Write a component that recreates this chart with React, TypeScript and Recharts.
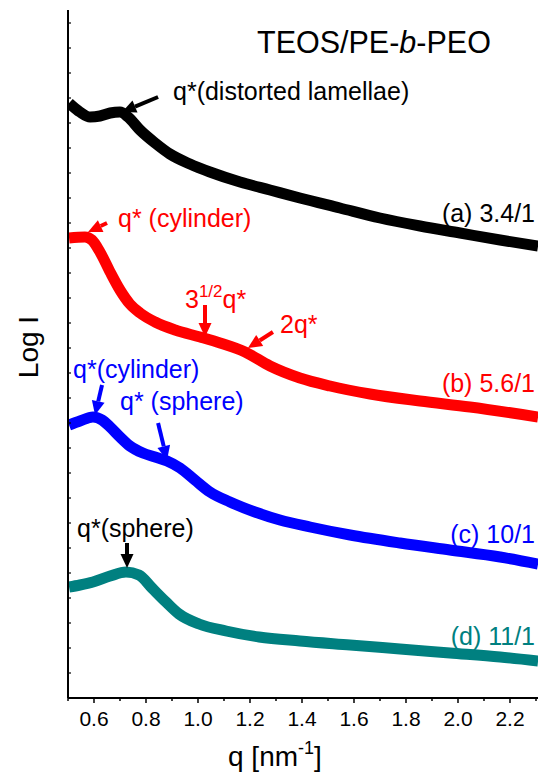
import React from "react"
import { ComposedChart, Line, Scatter, XAxis, YAxis } from "recharts"

// SAXS profiles, log intensity in arbitrary offset units
const curveA = [
  { q: 0.504, v: 59.5 }, { q: 0.546, v: 58.6 }, { q: 0.585, v: 58.1 }, { q: 0.623, v: 58.2 },
  { q: 0.662, v: 58.5 }, { q: 0.7, v: 58.6 }, { q: 0.731, v: 58.1 }, { q: 0.777, v: 56.8 },
  { q: 0.835, v: 55.5 }, { q: 0.892, v: 54.4 }, { q: 0.969, v: 53.4 }, { q: 1.046, v: 52.6 },
  { q: 1.162, v: 51.6 }, { q: 1.277, v: 50.8 }, { q: 1.392, v: 50.0 }, { q: 1.546, v: 49.0 },
  { q: 1.7, v: 48.0 }, { q: 1.854, v: 47.2 }, { q: 2.008, v: 46.5 }, { q: 2.162, v: 45.8 },
  { q: 2.308, v: 45.2 },
]

const curveB = [
  { q: 0.504, v: 46.0 }, { q: 0.565, v: 46.1 }, { q: 0.592, v: 45.8 }, { q: 0.623, v: 44.6 },
  { q: 0.662, v: 42.6 }, { q: 0.7, v: 40.8 }, { q: 0.738, v: 39.4 }, { q: 0.777, v: 38.5 },
  { q: 0.835, v: 37.6 }, { q: 0.912, v: 36.8 }, { q: 1.008, v: 36.1 }, { q: 1.085, v: 35.5 },
  { q: 1.181, v: 34.6 }, { q: 1.277, v: 33.2 }, { q: 1.392, v: 32.0 }, { q: 1.508, v: 31.2 },
  { q: 1.662, v: 30.4 }, { q: 1.854, v: 29.7 }, { q: 2.046, v: 29.1 }, { q: 2.308, v: 28.1 },
]

const curveC = [
  { q: 0.504, v: 27.3 }, { q: 0.546, v: 27.7 }, { q: 0.596, v: 28.1 }, { q: 0.631, v: 27.8 },
  { q: 0.662, v: 27.1 }, { q: 0.7, v: 26.1 }, { q: 0.738, v: 25.2 }, { q: 0.788, v: 24.5 },
  { q: 0.835, v: 24.1 }, { q: 0.881, v: 23.7 }, { q: 0.931, v: 23.0 }, { q: 0.988, v: 21.8 },
  { q: 1.046, v: 20.6 }, { q: 1.123, v: 19.6 }, { q: 1.219, v: 18.6 }, { q: 1.315, v: 17.8 },
  { q: 1.431, v: 17.1 }, { q: 1.585, v: 16.3 }, { q: 1.777, v: 15.5 }, { q: 1.969, v: 14.8 },
  { q: 2.162, v: 14.1 }, { q: 2.308, v: 13.4 },
]

const curveD = [
  { q: 0.504, v: 11.1 }, { q: 0.546, v: 11.3 }, { q: 0.596, v: 11.6 }, { q: 0.662, v: 12.2 },
  { q: 0.723, v: 12.6 }, { q: 0.773, v: 12.3 }, { q: 0.823, v: 11.0 }, { q: 0.877, v: 9.6 },
  { q: 0.927, v: 8.4 }, { q: 1.004, v: 7.4 }, { q: 1.108, v: 6.7 }, { q: 1.235, v: 6.1 },
  { q: 1.392, v: 5.7 }, { q: 1.585, v: 5.3 }, { q: 1.777, v: 4.9 }, { q: 1.969, v: 4.5 },
  { q: 2.162, v: 4.1 }, { q: 2.308, v: 3.7 },
]

// peak markers: tip on the curve, tail given as pixel offset
const arrows = [
  { q: 0.708, v: 58.6, dx: 36, dy: -15, color: "#000000" },
  { q: 0.577, v: 46.6, dx: 19, dy: -9, color: "#ff0000" },
  { q: 1.027, v: 36.1, dx: 0, dy: -32, color: "#ff0000" },
  { q: 1.192, v: 35.0, dx: 25, dy: -16, color: "#ff0000" },
  { q: 0.604, v: 28.3, dx: 7, dy: -30, color: "#0000ff" },
  { q: 0.881, v: 23.8, dx: -9, dy: -37, color: "#0000ff" },
  { q: 0.727, v: 13.0, dx: 0, dy: -25, color: "#000000" },
]

const xTicks = [0.5, 0.6, 0.7, 0.8, 0.9, 1.0, 1.1, 1.2, 1.3, 1.4, 1.5, 1.6, 1.7, 1.8, 1.9, 2.0, 2.1, 2.2, 2.3]
const yTicks = [2.5, 5, 7.5, 10, 12.5, 15, 17.5, 20, 22.5, 25, 27.5, 30, 32.5, 35, 37.5, 40, 42.5, 45, 47.5, 50, 52.5, 55, 57.5, 60, 62.5, 65, 67.5]

const FONT = "'Liberation Sans', Arial, sans-serif"

function Arrow(props: any) {
  const { cx, cy, payload } = props
  const { dx, dy, color } = payload
  const len = Math.hypot(dx, dy)
  const ux = dx / len
  const uy = dy / len
  const head = 14
  const half = 6.5
  const bx = cx + ux * head
  const by = cy + uy * head
  return (
    <g>
      <line x1={cx + dx} y1={cy + dy} x2={bx} y2={by} stroke={color} strokeWidth={4} />
      <polygon
        points={`${cx},${cy} ${bx - uy * half},${by + ux * half} ${bx + uy * half},${by - ux * half}`}
        fill={color}
      />
    </g>
  )
}

function BottomTick(props: any) {
  const { x, y, payload } = props
  const v = payload.value
  const major = Math.round(v * 10) % 2 === 0
  return (
    <g>
      <line x1={x} y1={y} x2={x} y2={y + (major ? 5 : 3)} stroke="#000" strokeWidth={1.5} />
      {major && (
        <text x={x} y={y + 28} textAnchor="middle" fontSize={21} fontFamily={FONT} fill="#000">
          {v.toFixed(1)}
        </text>
      )}
    </g>
  )
}

function TopTick(props: any) {
  const { x, y } = props
  return <line x1={x} y1={y} x2={x} y2={y + 3} stroke="#000" strokeWidth={1.2} />
}

function LeftTick(props: any) {
  const { x, y } = props
  return <line x1={x} y1={y} x2={x + 3} y2={y} stroke="#000" strokeWidth={1.2} />
}

export default function App() {
  return (
    <div style={{ position: "absolute", left: 0, top: 0, width: 538, height: 774, background: "#fff" }}>
      <ComposedChart width={538} height={774} margin={{ top: 10, right: 0, bottom: 0, left: 8 }}>
        <XAxis
          xAxisId="b"
          dataKey="q"
          type="number"
          domain={[0.5, 2.3077]}
          ticks={xTicks}
          interval={0}
          height={76}
          tickSize={0}
          tickMargin={0}
          tickLine={false}
          tick={<BottomTick />}
          axisLine={{ stroke: "#000", strokeWidth: 2 }}
          allowDataOverflow
        />
        <XAxis
          xAxisId="t"
          orientation="top"
          dataKey="q"
          type="number"
          domain={[0.5, 2.3077]}
          ticks={xTicks}
          interval={0}
          height={0}
          tickSize={0}
          tickMargin={0}
          tickLine={false}
          tick={<TopTick />}
          axisLine={{ stroke: "#000", strokeWidth: 2 }}
          allowDataOverflow
        />
        <YAxis
          type="number"
          domain={[0, 68.8]}
          ticks={yTicks}
          interval={0}
          width={60}
          tickSize={0}
          tickMargin={0}
          tickLine={false}
          tick={<LeftTick />}
          axisLine={{ stroke: "#000", strokeWidth: 2 }}
          allowDataOverflow
        />
        <Line xAxisId="b" data={curveA} dataKey="v" type="monotone" stroke="#000000" strokeWidth={11} dot={false} isAnimationActive={false} />
        <Line xAxisId="b" data={curveB} dataKey="v" type="monotone" stroke="#ff0000" strokeWidth={11} dot={false} isAnimationActive={false} />
        <Line xAxisId="b" data={curveC} dataKey="v" type="monotone" stroke="#0000ff" strokeWidth={11} dot={false} isAnimationActive={false} />
        <Line xAxisId="b" data={curveD} dataKey="v" type="monotone" stroke="#008080" strokeWidth={11} dot={false} isAnimationActive={false} />
        <Scatter xAxisId="b" data={arrows} dataKey="v" shape={<Arrow />} isAnimationActive={false} />
      </ComposedChart>
      <svg
        width={538}
        height={774}
        style={{ position: "absolute", left: 0, top: 0, pointerEvents: "none" }}
        fontFamily={FONT}
      >
        <text x={257} y={53} fontSize={30.5} fill="#000">
          TEOS/PE-<tspan fontStyle="italic">b</tspan>-PEO
        </text>
        <text x={173} y={100} fontSize={25} fill="#000">q*(distorted lamellae)</text>
        <text x={118} y={227} fontSize={25} fill="#ff0000">q* (cylinder)</text>
        <text x={185} y={308} fontSize={25} fill="#ff0000">
          3<tspan fontSize={17} dy={-11}>1/2</tspan><tspan dy={11}>q*</tspan>
        </text>
        <text x={280} y={333} fontSize={25} fill="#ff0000">2q*</text>
        <text x={73} y={378} fontSize={25} fill="#0000ff">q*(cylinder)</text>
        <text x={120} y={410} fontSize={25} fill="#0000ff">q* (sphere)</text>
        <text x={77} y={537} fontSize={25} fill="#000">q*(sphere)</text>
        <text x={535} y={222} fontSize={25} fill="#000" textAnchor="end">(a) 3.4/1</text>
        <text x={535} y={392} fontSize={25} fill="#ff0000" textAnchor="end">(b) 5.6/1</text>
        <text x={535} y={543} fontSize={25} fill="#0000ff" textAnchor="end">(c) 10/1</text>
        <text x={535} y={645} fontSize={25} fill="#008080" textAnchor="end">(d) 11/1</text>
        <text x={228} y={766} fontSize={28} fill="#000">
          q [nm<tspan fontSize={18} dy={-12}>-1</tspan><tspan dy={12}>]</tspan>
        </text>
        <text x={38} y={347} fontSize={28} fill="#000" textAnchor="middle" transform="rotate(-90, 38, 347)">
          Log I
        </text>
      </svg>
    </div>
  )
}
